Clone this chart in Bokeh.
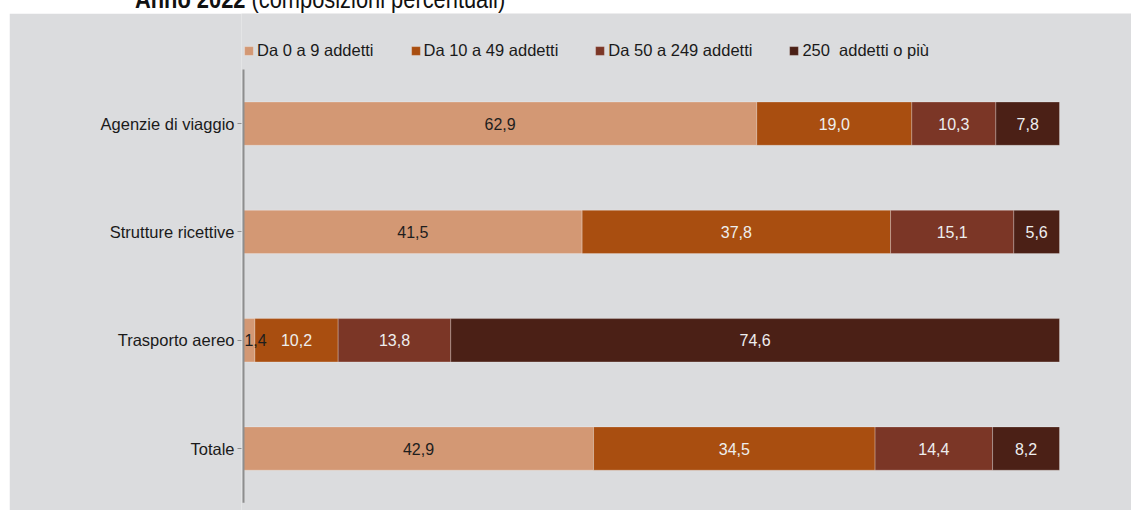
from bokeh.plotting import figure
from bokeh.models import ColumnDataSource, Range1d, Legend, LegendItem, FixedTicker, Div
from bokeh.layouts import column
from bokeh.core.properties import value
from bokeh.embed import file_html
from bokeh.resources import INLINE

# ---- data ----
categories = ["Agenzie di viaggio", "Strutture ricettive", "Trasporto aereo", "Totale"]
series_names = ["Da 0 a 9 addetti", "Da 10 a 49 addetti", "Da 50 a 249 addetti", "250  addetti o più"]
da_0_9 = [62.9, 41.5, 1.4, 42.9]
da_10_49 = [19.0, 37.8, 10.2, 34.5]
da_50_249 = [10.3, 15.1, 13.8, 14.4]
oltre_250 = [7.8, 5.6, 74.6, 8.2]
colors = ["#D39874", "#A94E10", "#7B3626", "#4B2016"]
label_colors = ["#1e1e1e", "#eeeeee", "#eeeeee", "#eeeeee"]

FONT = "Liberation Sans"
BG = "#DBDCDE"
PX_PER_PCT = 8.16        # horizontal scale
ROW_PX = 108.3           # height of one category row
TOP_PX, BOTTOM_PX, LEFT_PX, RIGHT_PX = 56, 7.8, 2, 72
BORDER_LEFT = 232

series = [da_0_9, da_10_49, da_50_249, oltre_250]
keys = ["s0", "s1", "s2", "s3"]
n = len(categories)
ypos = [n - 1 - i for i in range(n)]          # first category on top
data = {"y": ypos}
for k, s in zip(keys, series):
    data[k] = s
src = ColumnDataSource(data)

frame_h = int(round(n * ROW_PX + TOP_PX + BOTTOM_PX))
frame_w = int(100 * PX_PER_PCT) + LEFT_PX + RIGHT_PX
p = figure(
    y_range=Range1d(-0.5 - BOTTOM_PX / ROW_PX, n - 0.5 + TOP_PX / ROW_PX),
    x_range=Range1d(-LEFT_PX / PX_PER_PCT, 100 + RIGHT_PX / PX_PER_PCT),
    width=BORDER_LEFT + frame_w, height=frame_h,
    output_backend="svg", toolbar_location=None,
    x_axis_location=None,
    min_border_left=BORDER_LEFT, min_border_right=0, min_border_top=0, min_border_bottom=0,
    background_fill_color=BG, border_fill_color=BG,
)
p.margin = (0, 2, 0, 9)
p.outline_line_color = None
p.grid.visible = False

renderers = p.hbar_stack(keys, y="y", height=0.4, color=colors, source=src,
                         line_color="white", line_alpha=0.25, line_width=1)

# axis line spanning only the category rows
p.segment(x0=[0], y0=[-0.5], x1=[0], y1=[n - 0.5], line_color="#8E8E8E", line_width=2)

# value labels, centred in each segment (nudged right when the segment is too thin)
lx, ly, lt, lc, lo = [], [], [], [], []
for i in range(n):
    left = 0.0
    for j, s in enumerate(series):
        v = s[i]
        lx.append(left + v / 2)
        ly.append(ypos[i])
        lt.append(f"{v:.1f}".replace(".", ","))
        lc.append(label_colors[j])
        lo.append(max(0.0, 12 - v * PX_PER_PCT / 2))
        left += v
lsrc = ColumnDataSource(dict(x=lx, y=ly, t=lt, c=lc, o=lo))
p.text(x="x", y="y", text="t", text_color="c", source=lsrc, x_offset="o",
       text_align="center", text_baseline="middle",
       text_font=value(FONT), text_font_size="16px")

yax = p.yaxis[0]
yax.ticker = FixedTicker(ticks=ypos)
yax.major_label_overrides = {y: c for y, c in zip(ypos, categories)}
yax.axis_line_color = None
yax.major_tick_line_color = "#8E8E8E"
yax.major_tick_out = 4
yax.major_tick_in = 0
yax.minor_tick_line_color = None
yax.major_label_standoff = 3
yax.major_label_text_font = FONT
yax.major_label_text_font_size = "16.5px"
yax.major_label_text_color = "#1a1a1a"

legend = Legend(
    items=[LegendItem(label=nm, renderers=[r]) for nm, r in zip(series_names, renderers)],
    orientation="horizontal", location=(LEFT_PX, n * ROW_PX + BOTTOM_PX + 9),
    glyph_width=11, glyph_height=11, label_standoff=3, spacing=36, padding=2,
    background_fill_alpha=0, border_line_color=None,
    label_text_font=FONT, label_text_font_size="16.5px", label_text_color="#1a1a1a",
)
p.add_layout(legend, "center")

title = Div(
    text='<div style="position:relative; top:-14px; padding-left:135px; white-space:nowrap; '
         'font-family:\'Liberation Sans\', sans-serif; font-size:26px; line-height:26px; '
         'color:#111; transform:scaleX(0.84); transform-origin:135px 0;">'
         '<b>Anno 2022</b> (composizioni percentuali)</div>',
    width=1133, height=13, margin=0,
)

layout = column(title, p, spacing=0)
open("out.html", "w").write(file_html(layout, INLINE))
